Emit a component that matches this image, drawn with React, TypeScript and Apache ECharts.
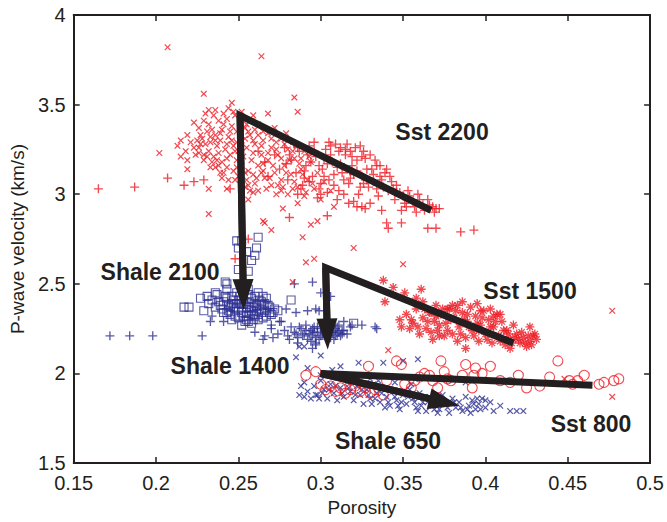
import React, { useEffect, useRef } from 'react';
import * as echarts from 'echarts';

const RED = '#ec1c24';
const BLUE = '#2e3192';
const INK = '#231f20';
const FONT = '"Liberation Sans", Arial, Helvetica, sans-serif';

// axis ticks
const xTickValues = [0.15, 0.2, 0.25, 0.3, 0.35, 0.4, 0.45, 0.5];
const yTickValues = [1.5, 2, 2.5, 3, 3.5, 4];

// Sst 2200 (red x markers)
const sst2200Cross: number[][] = [
  [0.207, 3.82], [0.264, 3.77], [0.229, 3.56], [0.284, 3.54], [0.286, 3.46], [0.232, 3.47], [0.246, 3.51],
  [0.202, 3.23], [0.215, 3.21], [0.219, 3.19], [0.223, 3.26], [0.229, 3.22], [0.268, 3.45], [0.259, 3.44],
  [0.219, 3.14], [0.232, 3.03], [0.232, 2.89], [0.239, 3.12], [0.243, 3.03], [0.256, 3.05], [0.257, 3.02],
  [0.256, 2.97], [0.266, 2.84], [0.270, 2.80], [0.289, 2.76], [0.277, 2.92], [0.294, 2.83], [0.298, 2.85],
  [0.286, 2.95], [0.308, 2.93], [0.276, 3.02], [0.265, 2.85], [0.320, 2.70], [0.291, 2.62], [0.296, 2.64],
  [0.283, 2.51], [0.259, 3.01], [0.350, 2.61], [0.341, 2.13], [0.477, 2.35], [0.477, 1.87], [0.448, 1.97],
  [0.243, 3.42], [0.248, 3.44], [0.251, 3.40], [0.246, 3.38], [0.240, 3.36], [0.236, 3.33], [0.231, 3.35],
  [0.228, 3.31], [0.233, 3.29], [0.239, 3.30], [0.244, 3.32], [0.249, 3.35], [0.254, 3.37], [0.258, 3.41],
  [0.262, 3.39], [0.257, 3.33], [0.252, 3.30], [0.247, 3.27], [0.242, 3.25], [0.237, 3.27], [0.232, 3.24],
  [0.226, 3.26], [0.221, 3.29], [0.224, 3.22], [0.229, 3.19], [0.235, 3.21], [0.240, 3.18], [0.245, 3.22],
  [0.250, 3.24], [0.255, 3.26], [0.260, 3.28], [0.265, 3.30], [0.268, 3.34], [0.272, 3.37], [0.276, 3.31],
  [0.270, 3.26], [0.264, 3.22], [0.258, 3.19], [0.252, 3.16], [0.247, 3.13], [0.241, 3.12], [0.236, 3.15],
  [0.244, 3.08], [0.250, 3.10], [0.256, 3.13], [0.262, 3.16], [0.268, 3.19], [0.274, 3.22], [0.280, 3.25],
  [0.285, 3.28], [0.290, 3.24], [0.284, 3.20], [0.278, 3.16], [0.272, 3.12], [0.266, 3.09], [0.260, 3.06],
  [0.254, 3.04], [0.262, 3.02], [0.270, 3.05], [0.276, 3.08], [0.282, 3.11], [0.288, 3.14], [0.294, 3.18],
  [0.298, 3.12], [0.292, 3.08], [0.286, 3.04], [0.280, 3.00], [0.290, 2.99], [0.296, 3.03], [0.302, 3.07],
  [0.306, 3.02], [0.300, 2.97], [0.232, 3.39], [0.238, 3.41], [0.226, 3.37], [0.219, 3.33], [0.215, 3.30],
  [0.223, 3.40], [0.230, 3.45], [0.236, 3.47], [0.244, 3.48], [0.252, 3.46], [0.218, 3.24], [0.213, 3.27],
  [0.234, 3.36], [0.241, 3.39], [0.227, 3.33], [0.246, 3.30], [0.256, 3.35], [0.262, 3.33], [0.238, 3.23],
  [0.249, 3.19], [0.227, 3.28], [0.234, 3.18], [0.255, 3.08], [0.265, 3.13], [0.273, 3.29], [0.279, 3.34],
  [0.229, 3.41], [0.235, 3.44], [0.241, 3.45], [0.247, 3.46], [0.233, 3.32], [0.239, 3.34], [0.245, 3.35],
  [0.251, 3.36], [0.255, 3.39], [0.260, 3.36], [0.265, 3.35], [0.270, 3.31], [0.225, 3.30], [0.230, 3.28],
  [0.236, 3.30], [0.243, 3.28], [0.249, 3.29], [0.254, 3.31], [0.259, 3.30], [0.264, 3.27], [0.268, 3.23],
  [0.273, 3.25], [0.278, 3.28], [0.283, 3.24], [0.288, 3.20], [0.293, 3.21], [0.287, 3.17], [0.281, 3.19],
  [0.276, 3.20], [0.271, 3.16], [0.265, 3.17], [0.259, 3.23], [0.253, 3.21], [0.248, 3.24], [0.243, 3.20],
  [0.237, 3.19], [0.231, 3.21], [0.226, 3.23], [0.233, 3.15], [0.238, 3.16], [0.243, 3.15], [0.249, 3.15],
  [0.254, 3.12], [0.259, 3.11], [0.264, 3.12], [0.269, 3.09], [0.274, 3.05], [0.279, 3.12], [0.284, 3.07],
  [0.289, 3.11], [0.295, 3.06], [0.283, 3.03], [0.277, 3.04], [0.248, 3.08], [0.252, 3.06], [0.240, 3.09],
  [0.261, 3.09], [0.267, 3.03], [0.273, 3.00], [0.291, 3.01]
];

// Sst 2200 (red + markers)
const sst2200Plus: number[][] = [
  [0.165, 3.03], [0.187, 3.04], [0.207, 3.09], [0.217, 3.05], [0.223, 3.07], [0.229, 3.08], [0.245, 3.03],
  [0.248, 2.64], [0.256, 2.75], [0.281, 2.87], [0.304, 2.88], [0.325, 2.93], [0.327, 2.92], [0.337, 2.91],
  [0.349, 2.91], [0.340, 2.84], [0.341, 2.81], [0.349, 2.84], [0.365, 2.81], [0.370, 2.81], [0.370, 2.92],
  [0.385, 2.79], [0.393, 2.80], [0.317, 2.95], [0.322, 2.93],
  [0.272, 3.22], [0.275, 3.14], [0.278, 3.26], [0.280, 3.08], [0.282, 3.19], [0.285, 3.12], [0.287, 3.24],
  [0.289, 3.05], [0.291, 3.16], [0.293, 3.27], [0.295, 3.10], [0.297, 3.21], [0.299, 3.03], [0.301, 3.14],
  [0.303, 3.25], [0.305, 3.08], [0.307, 3.18], [0.309, 3.28], [0.311, 3.02], [0.313, 3.12], [0.315, 3.22],
  [0.317, 3.06], [0.319, 3.16], [0.321, 3.26], [0.323, 3.00], [0.325, 3.10], [0.327, 3.20], [0.329, 3.04],
  [0.331, 3.14], [0.333, 3.19], [0.335, 2.99], [0.337, 3.08], [0.339, 3.12], [0.341, 3.02], [0.343, 3.07],
  [0.345, 2.97], [0.348, 3.01], [0.351, 2.95], [0.354, 2.99], [0.357, 2.93], [0.360, 2.97], [0.363, 2.91],
  [0.366, 2.94], [0.369, 2.90], [0.372, 2.92], [0.296, 3.29], [0.306, 3.27], [0.316, 3.28], [0.326, 3.24],
  [0.286, 3.00], [0.298, 2.98], [0.310, 2.97], [0.320, 2.96], [0.330, 2.95], [0.284, 3.28], [0.302, 3.20],
  [0.312, 3.17], [0.322, 3.13], [0.318, 3.09], [0.308, 3.11], [0.294, 3.18], [0.290, 3.09], [0.279, 3.17],
  [0.300, 3.06], [0.328, 3.08], [0.336, 3.16], [0.314, 3.00], [0.324, 3.04], [0.334, 3.03], [0.262, 3.24],
  [0.266, 3.18], [0.268, 3.10], [0.311, 3.24], [0.319, 3.21], [0.304, 3.01], [0.332, 3.11], [0.292, 3.22],
  [0.281, 3.22], [0.286, 3.26], [0.290, 3.13], [0.293, 3.07], [0.296, 3.24], [0.299, 3.16], [0.302, 3.10],
  [0.304, 3.17], [0.306, 3.22], [0.308, 3.05], [0.310, 3.15], [0.312, 3.26], [0.314, 3.08], [0.316, 3.14],
  [0.318, 3.24], [0.320, 3.11], [0.322, 3.19], [0.324, 3.27], [0.326, 3.06], [0.328, 3.14], [0.330, 3.22],
  [0.332, 3.07], [0.334, 3.16], [0.336, 3.10], [0.338, 3.04], [0.340, 3.14], [0.342, 3.10], [0.344, 3.03],
  [0.346, 3.05], [0.350, 2.99], [0.353, 3.02], [0.356, 2.96], [0.359, 3.00], [0.362, 2.94], [0.365, 2.97],
  [0.368, 2.93], [0.358, 2.90], [0.352, 2.93], [0.300, 3.00], [0.288, 3.03], [0.305, 3.29], [0.315, 3.25],
  [0.325, 3.21]
];

// Sst 1500 (red * markers)
const sst1500Star: number[][] = [
  [0.338, 2.52], [0.344, 2.48], [0.339, 2.40], [0.351, 2.45], [0.361, 2.47], [0.358, 2.42], [0.348, 2.30],
  [0.349, 2.26], [0.367, 2.34], [0.377, 2.36], [0.383, 2.38], [0.388, 2.14], [0.409, 2.33], [0.397, 2.35],
  [0.427, 2.26], [0.430, 2.22], [0.424, 2.17], [0.415, 2.14],
  [0.352, 2.33], [0.356, 2.28], [0.358, 2.36], [0.362, 2.31], [0.364, 2.25], [0.366, 2.34], [0.369, 2.29],
  [0.371, 2.24], [0.373, 2.33], [0.376, 2.28], [0.378, 2.36], [0.380, 2.22], [0.381, 2.31], [0.384, 2.26],
  [0.386, 2.34], [0.388, 2.20], [0.389, 2.29], [0.391, 2.37], [0.392, 2.24], [0.394, 2.32], [0.396, 2.18],
  [0.397, 2.27], [0.399, 2.35], [0.400, 2.22], [0.402, 2.30], [0.404, 2.17], [0.405, 2.26], [0.407, 2.33],
  [0.408, 2.21], [0.410, 2.29], [0.412, 2.16], [0.413, 2.24], [0.415, 2.19], [0.417, 2.27], [0.419, 2.22],
  [0.421, 2.17], [0.423, 2.20], [0.425, 2.15], [0.427, 2.18], [0.429, 2.21], [0.383, 2.18], [0.375, 2.21],
  [0.368, 2.19], [0.360, 2.22], [0.354, 2.25], [0.395, 2.39], [0.403, 2.36], [0.386, 2.40], [0.370, 2.38],
  [0.362, 2.40],
  [0.355, 2.30], [0.359, 2.26], [0.363, 2.36], [0.365, 2.29], [0.367, 2.23], [0.370, 2.32], [0.372, 2.27],
  [0.374, 2.36], [0.377, 2.24], [0.379, 2.30], [0.382, 2.35], [0.385, 2.22], [0.387, 2.30], [0.390, 2.26],
  [0.393, 2.21], [0.395, 2.28], [0.398, 2.31], [0.401, 2.19], [0.403, 2.26], [0.406, 2.29], [0.409, 2.18],
  [0.411, 2.24], [0.414, 2.22], [0.416, 2.17], [0.418, 2.20], [0.420, 2.19], [0.422, 2.23], [0.426, 2.21],
  [0.428, 2.16], [0.431, 2.19], [0.389, 2.33], [0.405, 2.32], [0.380, 2.38], [0.372, 2.21], [0.396, 2.24]
];

// Sst 800 (red o markers)
const sst800Circle: number[][] = [
  [0.291, 1.99], [0.297, 2.01], [0.300, 1.94], [0.303, 1.91], [0.306, 1.93], [0.309, 1.90], [0.312, 1.92],
  [0.315, 1.89], [0.318, 1.91], [0.321, 1.93], [0.324, 1.90], [0.327, 1.92], [0.330, 1.89], [0.333, 1.91],
  [0.338, 1.88], [0.329, 2.04], [0.340, 1.96], [0.346, 2.07], [0.349, 2.05], [0.351, 1.94], [0.357, 1.96],
  [0.363, 2.00], [0.368, 1.96], [0.371, 1.92], [0.373, 2.07], [0.379, 1.96], [0.388, 2.05], [0.394, 2.03],
  [0.392, 1.92], [0.398, 2.00], [0.403, 2.04], [0.415, 1.95], [0.420, 1.99], [0.433, 1.93], [0.439, 1.98],
  [0.444, 2.07], [0.451, 1.96], [0.456, 1.96], [0.460, 1.99], [0.469, 1.94], [0.472, 1.95], [0.478, 1.96],
  [0.481, 1.97], [0.375, 2.01], [0.377, 1.97], [0.386, 1.99], [0.393, 1.99], [0.409, 1.96], [0.425, 1.92],
  [0.453, 1.94], [0.360, 1.98], [0.366, 1.99], [0.355, 1.92]
];

// Shale 2100 (blue square markers)
const shale2100Square: number[][] = [
  [0.249, 2.74], [0.250, 2.70], [0.261, 2.70], [0.260, 2.66], [0.255, 2.68], [0.250, 2.58], [0.256, 2.57],
  [0.262, 2.76], [0.252, 2.74], [0.258, 2.63], [0.243, 2.50], [0.227, 2.42], [0.231, 2.43], [0.217, 2.37],
  [0.220, 2.37], [0.232, 2.39], [0.229, 2.35], [0.237, 2.44], [0.265, 2.43], [0.269, 2.34], [0.274, 2.35],
  [0.282, 2.41], [0.243, 2.34], [0.236, 2.45], [0.242, 2.51], [0.320, 2.28],
  [0.238, 2.40], [0.240, 2.36], [0.242, 2.43], [0.244, 2.38], [0.245, 2.33], [0.247, 2.41], [0.248, 2.36],
  [0.249, 2.45], [0.250, 2.31], [0.251, 2.39], [0.252, 2.34], [0.253, 2.42], [0.254, 2.29], [0.255, 2.37],
  [0.256, 2.32], [0.257, 2.40], [0.258, 2.35], [0.259, 2.30], [0.260, 2.43], [0.261, 2.38], [0.262, 2.33],
  [0.263, 2.36], [0.264, 2.40], [0.265, 2.31], [0.266, 2.35], [0.268, 2.38], [0.270, 2.33], [0.272, 2.36],
  [0.243, 2.47], [0.246, 2.30], [0.236, 2.37], [0.234, 2.41], [0.258, 2.28], [0.252, 2.27], [0.262, 2.45],
  [0.256, 2.47], [0.267, 2.42], [0.241, 2.40], [0.247, 2.37], [0.253, 2.39], [0.259, 2.37], [0.265, 2.38],
  [0.239, 2.38], [0.241, 2.34], [0.243, 2.42], [0.245, 2.37], [0.246, 2.43], [0.248, 2.32], [0.249, 2.39],
  [0.250, 2.35], [0.251, 2.43], [0.252, 2.37], [0.253, 2.32], [0.254, 2.40], [0.255, 2.34], [0.256, 2.29],
  [0.257, 2.37], [0.258, 2.42], [0.259, 2.33], [0.260, 2.39], [0.261, 2.35], [0.262, 2.30], [0.263, 2.41],
  [0.264, 2.34], [0.266, 2.39], [0.267, 2.32], [0.269, 2.37], [0.271, 2.34], [0.244, 2.35], [0.250, 2.41],
  [0.256, 2.44], [0.246, 2.39], [0.260, 2.32], [0.255, 2.30]
];

// Shale 1400 (blue + markers)
const shale1400Plus: number[][] = [
  [0.172, 2.21], [0.184, 2.21], [0.198, 2.21], [0.228, 2.21], [0.234, 2.32], [0.233, 2.29], [0.241, 2.29],
  [0.260, 2.23], [0.266, 2.21], [0.265, 2.19], [0.270, 2.27], [0.275, 2.29], [0.279, 2.36], [0.285, 2.34],
  [0.295, 2.51], [0.284, 2.50], [0.306, 2.43], [0.300, 2.45], [0.292, 2.35], [0.299, 2.35], [0.314, 2.29],
  [0.325, 2.27], [0.333, 2.26], [0.295, 2.14], [0.297, 2.16], [0.281, 2.19], [0.271, 2.20], [0.294, 2.18],
  [0.297, 2.36], [0.276, 2.29], [0.319, 2.27], [0.334, 2.25], [0.313, 2.24],
  [0.278, 2.24], [0.280, 2.21], [0.282, 2.26], [0.284, 2.23], [0.286, 2.20], [0.288, 2.25], [0.290, 2.22],
  [0.291, 2.27], [0.292, 2.19], [0.294, 2.24], [0.295, 2.21], [0.296, 2.26], [0.298, 2.23], [0.299, 2.19],
  [0.300, 2.25], [0.301, 2.22], [0.302, 2.28], [0.303, 2.20], [0.304, 2.24], [0.305, 2.21], [0.306, 2.26],
  [0.307, 2.23], [0.308, 2.19], [0.309, 2.25], [0.310, 2.22], [0.311, 2.27], [0.312, 2.21], [0.314, 2.24],
  [0.316, 2.22], [0.318, 2.26], [0.274, 2.22], [0.270, 2.25], [0.286, 2.17], [0.297, 2.17],
  [0.285, 2.22], [0.287, 2.26], [0.289, 2.21], [0.291, 2.24], [0.293, 2.22], [0.295, 2.25], [0.297, 2.20],
  [0.298, 2.26], [0.300, 2.21], [0.302, 2.24], [0.303, 2.26], [0.305, 2.23], [0.306, 2.20], [0.308, 2.24],
  [0.309, 2.21], [0.310, 2.26], [0.311, 2.23], [0.313, 2.22], [0.296, 2.23], [0.304, 2.22]
];

// Shale 650 (blue x markers)
const shale650Cross: number[][] = [
  [0.285, 2.09], [0.300, 2.10], [0.287, 2.15], [0.290, 2.15], [0.359, 2.08], [0.350, 2.07], [0.338, 2.06],
  [0.323, 2.06], [0.312, 2.04], [0.307, 2.02], [0.292, 2.03], [0.288, 1.93], [0.287, 1.88], [0.290, 1.87],
  [0.297, 1.88], [0.299, 1.86], [0.409, 1.82], [0.415, 1.79], [0.419, 1.79], [0.423, 1.79], [0.400, 1.85],
  [0.395, 1.86], [0.391, 1.78], [0.388, 1.95],
  [0.290, 1.95], [0.292, 1.90], [0.294, 1.86], [0.296, 1.93], [0.298, 1.88], [0.300, 1.96], [0.302, 1.91],
  [0.304, 1.86], [0.306, 1.94], [0.308, 1.89], [0.310, 1.85], [0.312, 1.92], [0.314, 1.87], [0.316, 1.95],
  [0.318, 1.90], [0.320, 1.85], [0.322, 1.93], [0.324, 1.88], [0.326, 1.83], [0.328, 1.91], [0.330, 1.86],
  [0.332, 1.94], [0.334, 1.89], [0.336, 1.84], [0.338, 1.92], [0.340, 1.87], [0.342, 1.82], [0.344, 1.90],
  [0.346, 1.85], [0.348, 1.80], [0.350, 1.88], [0.352, 1.83], [0.354, 1.91], [0.356, 1.86], [0.358, 1.81],
  [0.360, 1.89], [0.362, 1.84], [0.364, 1.79], [0.366, 1.87], [0.368, 1.82], [0.370, 1.85], [0.372, 1.80],
  [0.374, 1.88], [0.376, 1.83], [0.378, 1.78], [0.380, 1.86], [0.382, 1.81], [0.384, 1.84], [0.386, 1.79],
  [0.388, 1.87], [0.390, 1.82], [0.392, 1.85], [0.394, 1.80], [0.396, 1.83], [0.398, 1.86], [0.400, 1.81],
  [0.403, 1.84], [0.405, 1.79], [0.300, 1.99], [0.310, 1.98], [0.320, 1.97], [0.330, 1.97], [0.335, 1.96],
  [0.345, 1.95], [0.355, 1.94],
  [0.301, 1.89], [0.305, 1.91], [0.309, 1.93], [0.313, 1.89], [0.317, 1.92], [0.321, 1.88], [0.325, 1.91],
  [0.329, 1.88], [0.333, 1.86], [0.337, 1.89], [0.341, 1.84], [0.345, 1.87], [0.349, 1.84], [0.353, 1.87],
  [0.357, 1.84], [0.361, 1.82], [0.365, 1.84], [0.369, 1.80], [0.373, 1.83], [0.377, 1.81], [0.381, 1.84],
  [0.385, 1.81], [0.389, 1.80], [0.393, 1.83], [0.397, 1.80], [0.331, 1.83], [0.339, 1.81], [0.347, 1.82],
  [0.359, 1.79], [0.371, 1.78]
];

// Trend paths: [line end, apex, arrow head centre]
const trend2200: number[][] = [[0.367, 2.91], [0.251, 3.44], [0.253, 2.44]];
const trend1500: number[][] = [[0.417, 2.17], [0.303, 2.59], [0.304, 2.22]];
const trend800: number[][] = [[0.465, 1.935], [0.300, 2.00], [0.375, 1.84]];

const annotationTexts = ['Sst 2200', 'Shale 2100', 'Sst 1500', 'Shale 1400', 'Shale 650', 'Sst 800'];
const annotationPos: number[][] = [[442, 132], [160, 272], [530, 291], [230, 366], [388, 441], [591, 424]];

const PLUS = 'path://M-0.75,-5H0.75V-0.75H5V0.75H0.75V5H-0.75V0.75H-5V-0.75H-0.75Z';
const STAR =
  'path://M-0.75,-5H0.75V-0.75H5V0.75H0.75V5H-0.75V0.75H-5V-0.75H-0.75Z' +
  'M-4.0,-3.0L-3.0,-4.0L4.0,3.0L3.0,4.0Z' +
  'M3.0,-4.0L4.0,-3.0L-3.0,4.0L-4.0,3.0Z';

function scatter(name: string, data: number[][], symbol: string, size: number, color: string, hollow: boolean, rotate = 0, z = 2) {
  return {
    type: 'scatter',
    name,
    data,
    symbol,
    symbolSize: size,
    symbolRotate: rotate,
    z,
    silent: true,
    emphasis: { disabled: true },
    itemStyle: hollow
      ? { color: 'rgba(0,0,0,0)', borderColor: color, borderWidth: 1.1 }
      : { color, borderWidth: 0 },
  };
}

function trend(data: number[][]) {
  return {
    type: 'line',
    data,
    symbol: 'none',
    showSymbol: false,
    silent: true,
    z: 10,
    lineStyle: { color: INK, width: 7, cap: 'butt', join: 'miter' },
    markLine: {
      silent: true,
      symbol: ['none', 'triangle'],
      symbolSize: [21, 31],
      label: { show: false },
      emphasis: { disabled: true },
      lineStyle: { color: INK, width: 7, type: 'solid' },
      data: [[{ coord: data[1] }, { coord: data[2] }]],
    },
  };
}

export default function App() {
  const ref = useRef<HTMLDivElement>(null);
  useEffect(() => {
    if (!ref.current) return;
    const chart = echarts.init(ref.current, null, { renderer: 'svg' });
    const axisLine = { show: true, onZero: false, lineStyle: { color: INK, width: 2 } };
    const axisTick = { show: true, inside: true, length: 6, lineStyle: { color: INK, width: 1.5 } };
    const label = { color: INK, fontSize: 20, fontFamily: FONT };
    const fmt = (v: number) => String(parseFloat(v.toFixed(2)));
    const xMin = xTickValues[0];
    const xMax = xTickValues[xTickValues.length - 1];
    const xInt = xTickValues[1] - xTickValues[0];
    const yMin = yTickValues[0];
    const yMax = yTickValues[yTickValues.length - 1];
    const yInt = yTickValues[1] - yTickValues[0];
    chart.setOption({
      animation: false,
      backgroundColor: '#ffffff',
      grid: { left: 72, right: 13, top: 15, bottom: 50 },
      xAxis: [
        {
          type: 'value', min: xMin, max: xMax, interval: xInt, position: 'bottom',
          axisLine, axisTick, splitLine: { show: false },
          axisLabel: { ...label, margin: 10, formatter: fmt },
          name: 'Porosity', nameLocation: 'middle', nameGap: 28,
          nameTextStyle: { color: INK, fontSize: 19, fontFamily: FONT },
        },
        {
          type: 'value', min: xMin, max: xMax, interval: xInt, position: 'top',
          axisLine, axisTick, splitLine: { show: false }, axisLabel: { show: false },
        },
      ],
      yAxis: [
        {
          type: 'value', min: yMin, max: yMax, interval: yInt, position: 'left',
          axisLine, axisTick, splitLine: { show: false },
          axisLabel: { ...label, margin: 8, formatter: fmt },
          name: 'P-wave velocity (km/s)', nameLocation: 'middle', nameGap: 30, nameRotate: 90,
          nameTextStyle: { color: INK, fontSize: 19, fontFamily: FONT },
        },
        {
          type: 'value', min: yMin, max: yMax, interval: yInt, position: 'right',
          axisLine, axisTick, splitLine: { show: false }, axisLabel: { show: false },
        },
      ],
      series: [
        scatter('Shale 650', shale650Cross, PLUS, 8, BLUE, false, 45, 2),
        scatter('Shale 1400', shale1400Plus, PLUS, 9, BLUE, false, 0, 2),
        scatter('Shale 2100', shale2100Square, 'rect', 8, BLUE, true, 0, 2),
        scatter('Sst 2200 x', sst2200Cross, PLUS, 8, RED, false, 45, 3),
        scatter('Sst 2200 +', sst2200Plus, PLUS, 9, RED, false, 0, 3),
        scatter('Sst 1500', sst1500Star, STAR, 9, RED, false, 0, 3),
        scatter('Sst 800', sst800Circle, 'circle', 10, RED, true, 0, 3),
        trend(trend2200),
        trend(trend1500),
        trend(trend800),
      ],
      graphic: annotationTexts.map((t, i) => ({
        type: 'text',
        x: annotationPos[i][0],
        y: annotationPos[i][1],
        z: 20,
        style: {
          text: t,
          fill: INK,
          font: `bold 23px ${FONT}`,
          align: 'center',
          verticalAlign: 'middle',
        },
      })),
    });
    return () => chart.dispose();
  }, []);
  return <div ref={ref} style={{ position: 'fixed', left: 0, top: 0, width: 667, height: 522 }} />;
}
